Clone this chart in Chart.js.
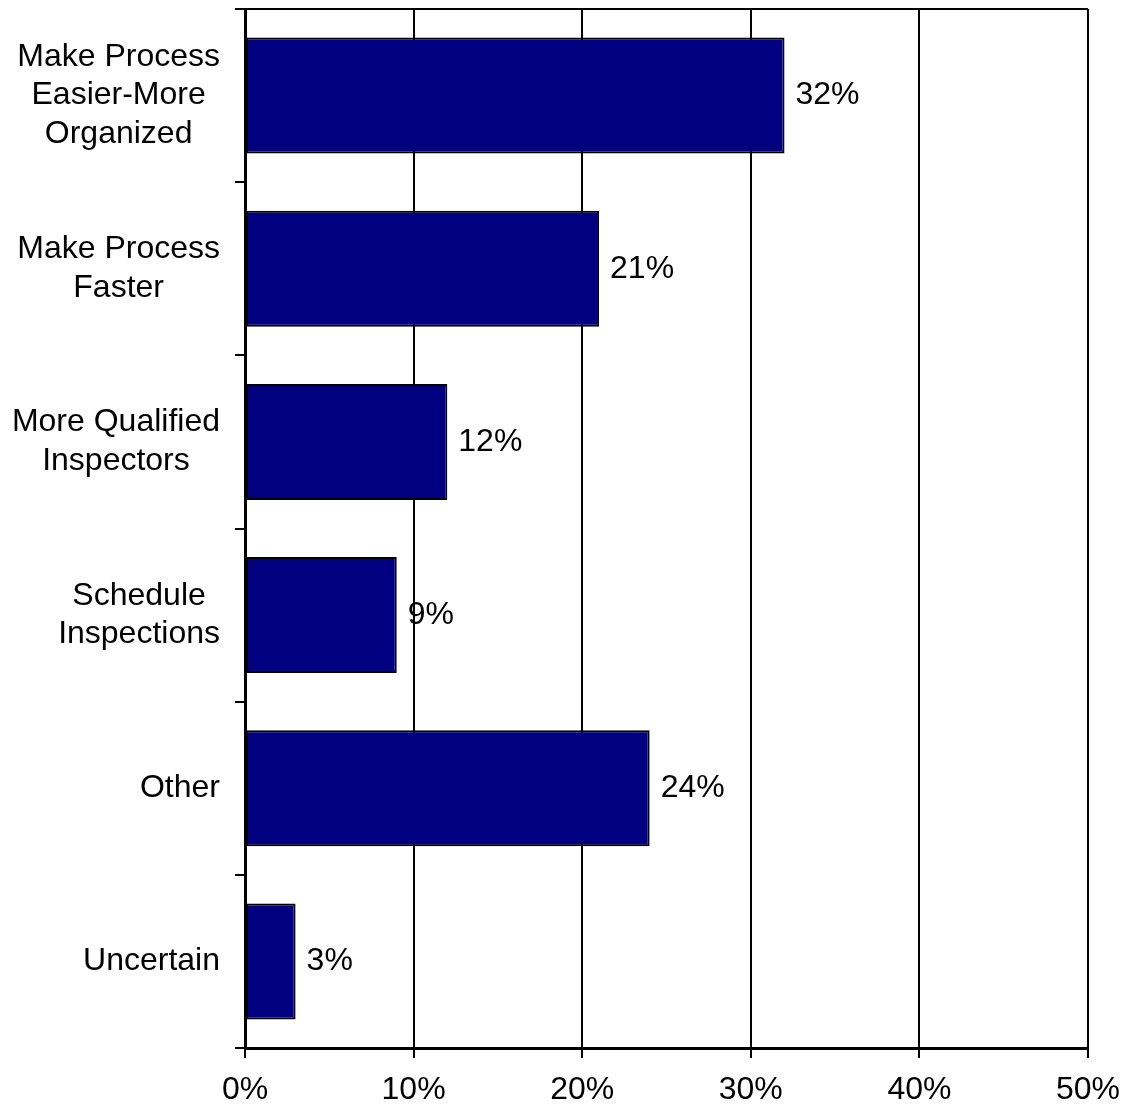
<!DOCTYPE html>
<html>
<head>
<meta charset="utf-8">
<title>Suggested improvements</title>
<script src="https://cdn.jsdelivr.net/npm/chart.js@4"></script>
<style>
  html, body { margin: 0; padding: 0; background: #fff; }
  #wrap { width: 1127px; height: 1112px; }
</style>
</head>
<body>
<div id="wrap"><canvas id="chart" width="1127" height="1112"></canvas></div>
<script>
/* ================= DATA ================= */
const categories = [
  ["Make Process", "Easier-More", "Organized"],
  ["Make Process", "Faster"],
  ["More Qualified", "Inspectors"],
  ["Schedule", "Inspections"],
  ["Other"],
  ["Uncertain"]
];
const shares = [32, 21, 12, 9, 24, 3];
const xTicks = [0, 10, 20, 30, 40, 50];

const FONT = "'Liberation Sans', Arial, sans-serif";
const FONT_SIZE = 32;
const LINE_H = 38.5;

/* ================= PLUGINS ================= */
// frame line along the top of the plot
const topFrame = {
  id: "topFrame",
  afterDraw(chart) {
    const { ctx, chartArea } = chart;
    ctx.save();
    ctx.strokeStyle = "#000";
    ctx.lineWidth = 2;
    ctx.beginPath();
    ctx.moveTo(chartArea.left, chartArea.top);
    ctx.lineTo(chartArea.right, chartArea.top);
    ctx.stroke();
    ctx.restore();
  }
};

// category names: block right-aligned to the axis, each line centred in it
const categoryLabels = {
  id: "categoryLabels",
  afterDraw(chart) {
    const { ctx } = chart;
    const yScale = chart.scales.y;
    const rightEdge = yScale.right - 25;
    ctx.save();
    ctx.font = FONT_SIZE + "px " + FONT;
    ctx.fillStyle = "#000";
    ctx.textAlign = "center";
    ctx.textBaseline = "middle";
    chart.data.labels.forEach((lines, i) => {
      const widest = Math.max(...lines.map(l => ctx.measureText(l).width));
      const cx = rightEdge - widest / 2;
      const cy = yScale.getPixelForValue(i);
      const startY = cy - (lines.length - 1) * LINE_H / 2;
      lines.forEach((line, j) => ctx.fillText(line, cx, startY + j * LINE_H));
    });
    ctx.restore();
  }
};

// percentage at the end of each bar
const valueLabels = {
  id: "valueLabels",
  afterDatasetsDraw(chart) {
    const { ctx } = chart;
    const meta = chart.getDatasetMeta(0);
    ctx.save();
    ctx.font = FONT_SIZE + "px " + FONT;
    ctx.fillStyle = "#000";
    ctx.textAlign = "left";
    ctx.textBaseline = "middle";
    meta.data.forEach((bar, i) => {
      ctx.fillText(chart.data.datasets[0].data[i] + "%", bar.x + 11, bar.y);
    });
    ctx.restore();
  }
};

/* ================= CHART ================= */
new Chart(document.getElementById("chart").getContext("2d"), {
  type: "bar",
  data: {
    labels: categories,
    datasets: [{
      data: shares,
      backgroundColor: "#000080",
      borderColor: "#000",
      borderWidth: 2,
      borderSkipped: false,
      categoryPercentage: 1,
      barPercentage: 0.67
    }]
  },
  options: {
    indexAxis: "y",
    responsive: false,
    animation: false,
    devicePixelRatio: 1,
    layout: { padding: { top: 9, right: 39, left: 0, bottom: 0 } },
    plugins: {
      legend: { display: false },
      tooltip: { enabled: false }
    },
    scales: {
      x: {
        min: 0,
        max: 50,
        afterBuildTicks(scale) {
          scale.ticks = xTicks.map(v => ({ value: v }));
        },
        afterFit(scale) {
          scale.height = 64;
          scale.paddingLeft = 0;
          scale.paddingRight = 0;
        },
        grid: { color: "#000", lineWidth: 2, tickLength: 10 },
        border: { color: "#000", width: 3 },
        ticks: {
          color: "#000",
          padding: 13,
          font: { family: FONT, size: FONT_SIZE },
          callback: v => v + "%"
        }
      },
      y: {
        afterFit(scale) { scale.width = 245; },
        grid: { drawOnChartArea: false, color: "#000", lineWidth: 2, tickLength: 10, offset: true },
        border: { color: "#000", width: 3 },
        ticks: { display: false }
      }
    }
  },
  plugins: [topFrame, categoryLabels, valueLabels]
});
</script>
</body>
</html>
